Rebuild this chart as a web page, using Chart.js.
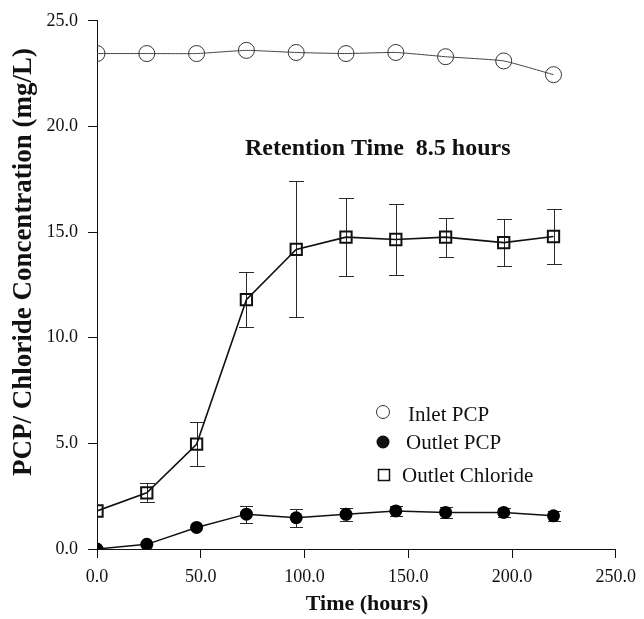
<!DOCTYPE html>
<html>
<head>
<meta charset="utf-8">
<title>PCP / Chloride concentration</title>
<script src="https://cdn.jsdelivr.net/npm/chart.js@4.4.0/dist/chart.umd.min.js"></script>
<style>
  html, body { margin: 0; padding: 0; background: #fff; }
  #wrap { width: 644px; height: 619px; }
</style>
</head>
<body>
<div id="wrap"><canvas id="chart" width="644" height="619"></canvas></div>
<script>
// Sampling times (hours)
const hours = [0, 24, 48, 72, 96, 120, 144, 168, 196, 220];

// Concentrations (mg/L) and standard deviations
const inletPCP = [23.45, 23.45, 23.45, 23.6, 23.5, 23.45, 23.5, 23.3, 23.1, 22.45];
const outletPCP = [0.0, 0.22, 1.02, 1.65, 1.48, 1.64, 1.8, 1.73, 1.73, 1.57];
const outletPCPErr = [0, 0, 0, 0.4, 0.42, 0.32, 0.25, 0.25, 0.22, 0.25];
const outletChloride = [1.8, 2.66, 4.96, 11.8, 14.18, 14.76, 14.65, 14.76, 14.5, 14.79];
const outletChlorideErr = [0, 0.45, 1.05, 1.3, 3.22, 1.86, 1.7, 0.92, 1.12, 1.3];

// Axis ticks
const xTicks = [0, 50, 100, 150, 200, 250];
const yTicks = [0, 5, 10, 15, 20, 25];

const seriesNames = ['Inlet PCP', 'Outlet PCP', 'Outlet Chloride'];
const xTitle = 'Time (hours)';
const yTitle = 'PCP/ Chloride Concentration (mg/L)';
const noteText = 'Retention Time  8.5 hours';

const SERIF = '"Liberation Serif", "Times New Roman", serif';

function toPoints(ys) {
  return hours.map((h, i) => ({ x: h, y: ys[i] }));
}

// Vertical error bars with caps, drawn under the markers
const errorBars = {
  id: 'errorBars',
  beforeDatasetsDraw(chart) {
    const ctx = chart.ctx;
    const yScale = chart.scales.y;
    chart.data.datasets.forEach((ds, i) => {
      if (!ds.errors) return;
      const meta = chart.getDatasetMeta(i);
      ctx.save();
      ctx.strokeStyle = '#2a2a2a';
      ctx.lineWidth = 1;
      meta.data.forEach((pt, j) => {
        const err = ds.errors[j];
        if (!err) return;
        const v = ds.data[j].y;
        const top = Math.round(yScale.getPixelForValue(v + err)) + 0.5;
        const bot = Math.round(yScale.getPixelForValue(v - err)) + 0.5;
        const x = Math.round(pt.x) + 0.5;
        const half = ds.capWidth / 2;
        ctx.beginPath();
        ctx.moveTo(x, top); ctx.lineTo(x, bot);
        ctx.moveTo(x - half, top); ctx.lineTo(x + half, top);
        ctx.moveTo(x - half, bot); ctx.lineTo(x + half, bot);
        ctx.stroke();
      });
      ctx.restore();
    });
  }
};

// Axis titles, legend inside the plot and the retention time note
const overlay = {
  id: 'overlay',
  afterDraw(chart) {
    const ctx = chart.ctx;
    ctx.save();
    ctx.fillStyle = '#111';

    ctx.textAlign = 'center';
    ctx.textBaseline = 'middle';
    ctx.font = 'bold 22px ' + SERIF;
    ctx.fillText(xTitle, 367, 604);

    ctx.save();
    ctx.translate(24, 262);
    ctx.rotate(-Math.PI / 2);
    ctx.font = 'bold 27px ' + SERIF;
    ctx.fillText(yTitle, 0, 0);
    ctx.restore();

    ctx.textAlign = 'left';
    ctx.textBaseline = 'alphabetic';
    ctx.font = 'bold 24px ' + SERIF;
    ctx.fillText(noteText, 245, 155);

    ctx.font = '21px ' + SERIF;
    // Inlet PCP: open circle
    ctx.strokeStyle = '#333';
    ctx.lineWidth = 1;
    ctx.beginPath();
    ctx.arc(383, 412, 6.5, 0, Math.PI * 2);
    ctx.stroke();
    ctx.fillText(seriesNames[0], 408, 421);
    // Outlet PCP: filled circle
    ctx.beginPath();
    ctx.arc(383, 442, 6.5, 0, Math.PI * 2);
    ctx.fill();
    ctx.fillText(seriesNames[1], 406, 449);
    // Outlet Chloride: open square
    ctx.strokeStyle = '#111';
    ctx.lineWidth = 1.5;
    ctx.strokeRect(378.5, 469.5, 11, 11);
    ctx.fillText(seriesNames[2], 402, 482);
    ctx.restore();
  }
};

new Chart(document.getElementById('chart'), {
  type: 'scatter',
  data: {
    datasets: [
      {
        label: seriesNames[0],
        data: toPoints(inletPCP),
        showLine: true,
        tension: 0.15,
        borderColor: '#444',
        borderWidth: 1,
        pointStyle: 'circle',
        pointRadius: 8,
        pointBorderWidth: 1,
        pointBorderColor: '#333',
        pointBackgroundColor: 'rgba(255,255,255,0)'
      },
      {
        label: seriesNames[1],
        data: toPoints(outletPCP),
        errors: outletPCPErr,
        capWidth: 13,
        showLine: true,
        tension: 0,
        borderColor: '#111',
        borderWidth: 1.5,
        pointStyle: 'circle',
        pointRadius: 6.5,
        pointBorderWidth: 0,
        pointBackgroundColor: '#000'
      },
      {
        label: seriesNames[2],
        data: toPoints(outletChloride),
        errors: outletChlorideErr,
        capWidth: 15,
        showLine: true,
        tension: 0,
        borderColor: '#111',
        borderWidth: 1.6,
        pointStyle: 'rect',
        pointRadius: 8,
        pointBorderWidth: 2,
        pointBorderColor: '#111',
        pointBackgroundColor: 'rgba(255,255,255,0)'
      }
    ]
  },
  options: {
    responsive: false,
    animation: false,
    layout: { padding: { left: 0, right: 23, top: 20, bottom: 0 } },
    plugins: {
      legend: { display: false },
      tooltip: { enabled: false }
    },
    scales: {
      x: {
        type: 'linear',
        min: 0,
        max: 250,
        afterBuildTicks: (scale) => { scale.ticks = xTicks.map(v => ({ value: v })); },
        afterFit: (scale) => { scale.height = 70; },
        border: { color: '#111', width: 1 },
        grid: { drawOnChartArea: false, drawTicks: true, tickLength: 9, color: '#111' },
        ticks: {
          padding: 8,
          color: '#111',
          font: { family: SERIF, size: 18 },
          callback: (v) => Number(v).toFixed(1)
        }
      },
      y: {
        type: 'linear',
        min: 0,
        max: 25,
        afterBuildTicks: (scale) => { scale.ticks = yTicks.map(v => ({ value: v })); },
        afterFit: (scale) => { scale.width = 97; },
        border: { color: '#111', width: 1 },
        grid: { drawOnChartArea: false, drawTicks: true, tickLength: 9, color: '#111' },
        ticks: {
          padding: 10,
          color: '#111',
          font: { family: SERIF, size: 18 },
          callback: (v) => Number(v).toFixed(1)
        }
      }
    }
  },
  plugins: [errorBars, overlay]
});
</script>
</body>
</html>
